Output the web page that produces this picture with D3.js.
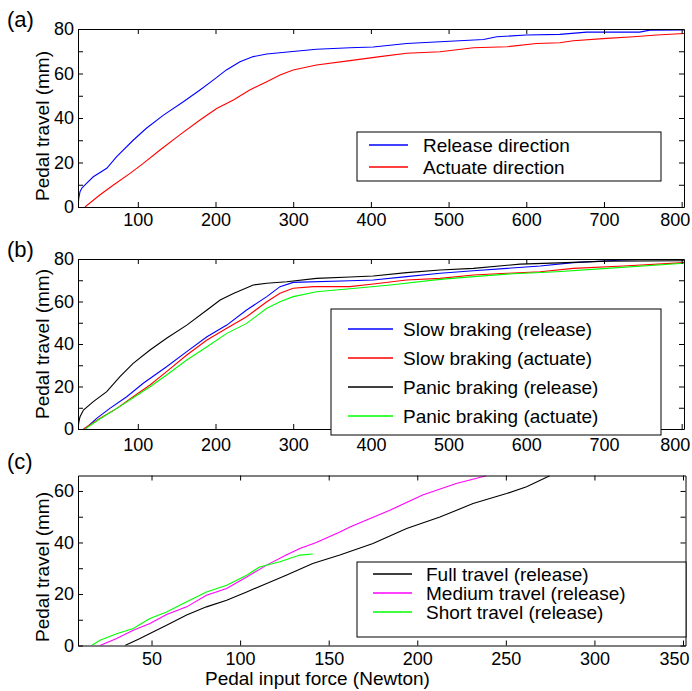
<!DOCTYPE html>
<html>
<head>
<meta charset="utf-8">
<title>Pedal travel vs force</title>
<script src="https://cdn.jsdelivr.net/npm/d3@7"></script>
<style>
  body { margin: 0; background: #fff; }
  svg { display: block; }
  text { font-family: "Liberation Sans", Arial, sans-serif; fill: #000; }
  .tick line, .domain { stroke: #000; }
</style>
</head>
<body>
<div id="chart"></div>
<script>
// values: [force (N), travel (mm)]
var aRelease = [[23,0],[24,4],[25.6,6.9],[28,8.5],[32,9.9],[42.7,13.6],[60,17.4],[72.8,22.6],[94,30],[111,35.4],[133,41.3],[158.6,47.3],[180,52.6],[197,57],[214,61.6],[231.5,65.3],[248.6,67.6],[266,68.8],[296,69.8],[330,70.9],[373,71.6],[403,71.9],[446,73.5],[489,74.3],[545,75.3],[562,76.5],[600,77.3],[643,77.6],[678,78.6],[746,78.6],[759,79.5],[803,79.6]];
var aActuate = [[32,0],[51,5.4],[68.6,9.9],[90,15.1],[107,19.6],[128.6,25.6],[154,32.4],[180,39.1],[201.5,44.3],[223,48.1],[244,52.6],[266,56.3],[283,59.3],[300,61.6],[330,63.8],[373,65.8],[411.7,67.6],[446,69.1],[489,69.8],[532,71.6],[575,72],[613,73.5],[643,73.8],[660.5,74.7],[703.5,75.8],[738,76.5],[768,77.3],[803,78]];

var bSlowRelease = [[32,0],[47,5],[64,9.7],[85.7,15.2],[107,21.5],[137,29.3],[163,36.4],[189,43.4],[214.5,48.9],[240,56],[266,62.3],[283,67],[300,69],[373,69.8],[403,70.1],[446,71.7],[489,73.3],[532,74.5],[575,75.6],[618,76.7],[660.5,78.3],[725,79.5],[789,80.3],[803,80]];
var bSlowActuate = [[30,0],[51,5],[73,9.7],[94,15.2],[115.7,20.7],[137,27],[163,34.8],[189,41.9],[214.5,47.4],[240,52.8],[266,59.9],[283,63.9],[300,66.2],[326,67],[373,67],[403,68.2],[446,70.1],[489,70.9],[532,72.5],[575,73.3],[618,74],[660.5,75.6],[725,76.7],[803,78.3]];
var bPanicRelease = [[23,0],[24,3],[25.6,5.8],[30,8.9],[42.7,12.9],[60,17.6],[77,24.6],[94,30.9],[115.7,37.2],[137,42.7],[163,48.9],[189,56],[206,60.7],[223,63.8],[248.6,67.8],[266,68.6],[291.6,69.3],[330,70.9],[373,71.5],[403,72],[446,73.6],[489,74.8],[532,75.6],[592,77.6],[652,78.3],[703.5,79],[803,79.2]];
var bPanicActuate = [[32,0],[51,4.7],[73,9.7],[94,14.7],[115.7,19.9],[137,25.4],[163,32.5],[189,38.7],[214.5,45],[240,49.7],[266,56.8],[283,59.9],[300,62.3],[330,64.6],[373,66],[425,67.8],[489,70.4],[532,71.7],[575,72.9],[639,74],[703.5,75.6],[803,78]];

var cFull = [[35,0],[43.5,2.7],[49.1,4.7],[58.5,7.9],[69.8,11.8],[81,15],[92.4,17.6],[103.7,20.8],[115,24.1],[126,27.3],[141,31.8],[156.3,35.1],[175,39.6],[194,45.4],[212.8,49.9],[231.5,55.1],[250.4,59],[261.7,61.6],[274.8,65.9]];
var cMedium = [[20.9,0],[30.3,2.7],[39.7,5.9],[49.1,8.5],[58.5,12],[69.8,15],[81,19.5],[92.4,22.1],[103.7,26.6],[115,31.2],[126,35.1],[133.7,37.7],[143,40],[156.3,44.1],[162,46],[184.5,52.5],[203,58.4],[222,62.9],[239,65.9]];
var cShort = [[16.2,0],[20.9,2],[30.3,4.6],[39.7,6.6],[49.1,10.5],[58.5,13],[67.9,16.3],[81,20.8],[92.4,23.4],[103.7,27.3],[111,30.5],[122.5,32.5],[133.7,35.1],[141,35.5]];

var ticksAB = [100, 200, 300, 400, 500, 600, 700, 800];
var ticksC = [50, 100, 150, 200, 250, 300, 350];
var yTicksAB = [0, 10, 20, 30, 40, 50, 60, 70, 80];
var yTicksC = [0, 10, 20, 30, 40, 50, 60];

var legendA = ["Release direction", "Actuate direction"];
var legendB = ["Slow braking (release)", "Slow braking (actuate)", "Panic braking (release)", "Panic braking (actuate)"];
var legendC = ["Full travel (release)", "Medium travel (release)", "Short travel (release)"];

var W = 692, H = 691;
var svg = d3.select("#chart").append("svg").attr("width", W).attr("height", H);

function panel(p) {
  var x = d3.scaleLinear().domain(p.xdom).range([p.left, p.right]);
  var y = d3.scaleLinear().domain(p.ydom).range([p.bottom, p.top]);
  var g = svg.append("g");

  g.append("clipPath").attr("id", "clip-" + p.id)
    .append("rect").attr("x", p.left).attr("y", p.top)
    .attr("width", p.right - p.left).attr("height", p.bottom - p.top);

  var line = d3.line().x(function (d) { return x(d[0]); }).y(function (d) { return y(d[1]); });
  p.series.forEach(function (s) {
    g.append("path").datum(s.data)
      .attr("clip-path", "url(#clip-" + p.id + ")")
      .attr("fill", "none").attr("stroke", s.color).attr("stroke-width", 1.1)
      .attr("d", line);
  });

  // closed box, ticks pointing inward (matlab style)
  var fmtY = function (d) { return d % 20 === 0 ? d : ""; };
  var xa = g.append("g").attr("transform", "translate(0," + p.bottom + ")")
    .call(d3.axisBottom(x).tickValues(p.xticks).tickSize(-5).tickSizeOuter(0).tickPadding(p.xpad));
  xa.selectAll("text").style("font-size", "18px");
  // last label is pulled in so it stays inside the figure
  xa.selectAll(".tick").filter(function (d, i, n) { return i === n.length - 1; })
    .select("text").attr("dx", p.lastShift);
  g.append("g").attr("transform", "translate(0," + p.top + ")")
    .call(d3.axisTop(x).tickValues(p.xticks).tickSize(-5).tickSizeOuter(0).tickFormat(""));
  g.append("g").attr("transform", "translate(" + p.left + ",0)")
    .call(d3.axisLeft(y).tickValues(p.yticks).tickSize(-5).tickSizeOuter(0).tickPadding(4).tickFormat(fmtY))
    .call(function (a) { a.selectAll("text").style("font-size", "18px"); });
  g.append("g").attr("transform", "translate(" + p.right + ",0)")
    .call(d3.axisRight(y).tickValues(p.yticks).tickSize(-5).tickSizeOuter(0).tickFormat(""));

  g.append("text").attr("transform", "translate(49," + p.ylabY + ") rotate(-90)")
    .attr("text-anchor", "middle").style("font-size", "19px").text("Pedal travel (mm)");
  g.append("text").attr("x", 7).attr("y", p.tagY).style("font-size", "22px").text(p.tag);

  // legend
  var L = p.legend;
  g.append("rect").attr("x", L.x).attr("y", L.y).attr("width", L.w).attr("height", L.h)
    .attr("fill", "#fff").attr("stroke", "#000").attr("stroke-width", 1);
  p.series.forEach(function (s, i) {
    var ly = L.rows[i];
    g.append("line").attr("x1", L.lx1).attr("x2", L.lx2).attr("y1", ly).attr("y2", ly)
      .attr("stroke", s.color).attr("stroke-width", 1.3);
    g.append("text").attr("x", L.tx).attr("y", ly + 7).style("font-size", "19px").text(s.name);
  });
  return { x: x, y: y };
}

panel({
  id: "a", tag: "(a)", tagY: 27, left: 78, right: 684, top: 29, bottom: 207,
  xdom: [23, 803], ydom: [0, 80], xticks: ticksAB, yticks: yTicksAB, ylabY: 126, xpad: 6, lastShift: -7,
  series: [
    { name: legendA[0], color: "#0000ff", data: aRelease },
    { name: legendA[1], color: "#ff0000", data: aActuate }
  ],
  legend: { x: 357, y: 132, w: 304, h: 49, lx1: 369, lx2: 408, tx: 423, rows: [145, 167] }
});

panel({
  id: "b", tag: "(b)", tagY: 257, left: 78, right: 684, top: 259, bottom: 429,
  xdom: [23, 803], ydom: [0, 80], xticks: ticksAB, yticks: yTicksAB, ylabY: 344, xpad: 9, lastShift: -7,
  series: [
    { name: legendB[0], color: "#0000ff", data: bSlowRelease },
    { name: legendB[1], color: "#ff0000", data: bSlowActuate },
    { name: legendB[2], color: "#000000", data: bPanicRelease },
    { name: legendB[3], color: "#00ff00", data: bPanicActuate }
  ],
  legend: { x: 331, y: 309, w: 330, h: 126, lx1: 348, lx2: 393, tx: 403, rows: [329, 358, 387, 416] }
});

panel({
  id: "c", tag: "(c)", tagY: 469, left: 78, right: 685.5, top: 475.5, bottom: 645.5,
  xdom: [8.5, 351.4], ydom: [0, 66], xticks: ticksC, yticks: yTicksC, ylabY: 567, xpad: 7, lastShift: -9,
  series: [
    { name: legendC[0], color: "#000000", data: cFull },
    { name: legendC[1], color: "#ff00ff", data: cMedium },
    { name: legendC[2], color: "#00ff00", data: cShort }
  ],
  legend: { x: 357, y: 562, w: 329, h: 75, lx1: 373, lx2: 412, tx: 426, rows: [574, 593, 612] }
});

svg.append("text").attr("x", 205).attr("y", 685)
  .style("font-size", "19px").text("Pedal input force (Newton)");
</script>
</body>
</html>
